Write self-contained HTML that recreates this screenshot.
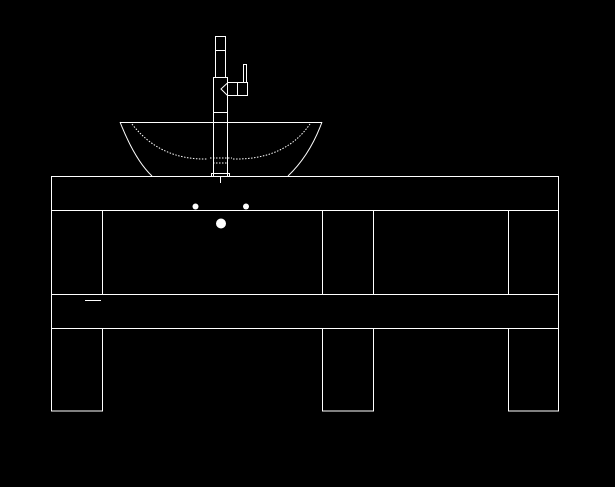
<!DOCTYPE html><html><head><style>body{margin:0;background:#000}svg{display:block}</style></head><body>
<svg width="615" height="487" viewBox="0 0 615 487" xmlns="http://www.w3.org/2000/svg">
<rect width="615" height="487" fill="#000"/>
<g fill="none" stroke="#fff" stroke-width="1">
<rect x="51.5" y="176.5" width="507" height="34"/>
<rect x="51.5" y="294.5" width="507" height="34"/>
<path d="M51.5 210v84M102.5 210v84M322.5 210v84M373.5 210v84M508.5 210v84M558.5 210v84"/>
<path d="M51.5 328v83h51v-83M322.5 328v83h51v-83M508.5 328v83h50v-83"/>
<path d="M85 300.5h16"/>
<path d="M120 122.5h202M120 122 Q135 160 152 176M322 122 Q310 155 288 176"/>
<path d="M132 124 Q160 160 207 159 M233 159 Q285 160 310 124" stroke-dasharray="1.5 1.5"/>
<path d="M210 158h22M213 163h14" stroke-dasharray="1.5 1.5"/>
<rect x="211.5" y="173.5" width="18" height="3"/>
<path d="M220.5 176v7"/>
<rect x="215.5" y="36.5" width="10" height="41"/>
<path d="M216 50.5h9"/>
<rect x="213.5" y="77.5" width="14" height="99"/>
<path d="M213 112.5h14"/>
<path d="M228 82.5 L221 89 L228 96 M228 82.5h9M228 95.5h9"/>
<rect x="237.5" y="82.5" width="10" height="13"/>
<rect x="243.5" y="64.5" width="3" height="18"/>
</g>
<g fill="#fff"><circle cx="195.5" cy="206.5" r="3"/><circle cx="246" cy="206.5" r="3"/><circle cx="221" cy="223.5" r="5"/></g>
</svg></body></html>
